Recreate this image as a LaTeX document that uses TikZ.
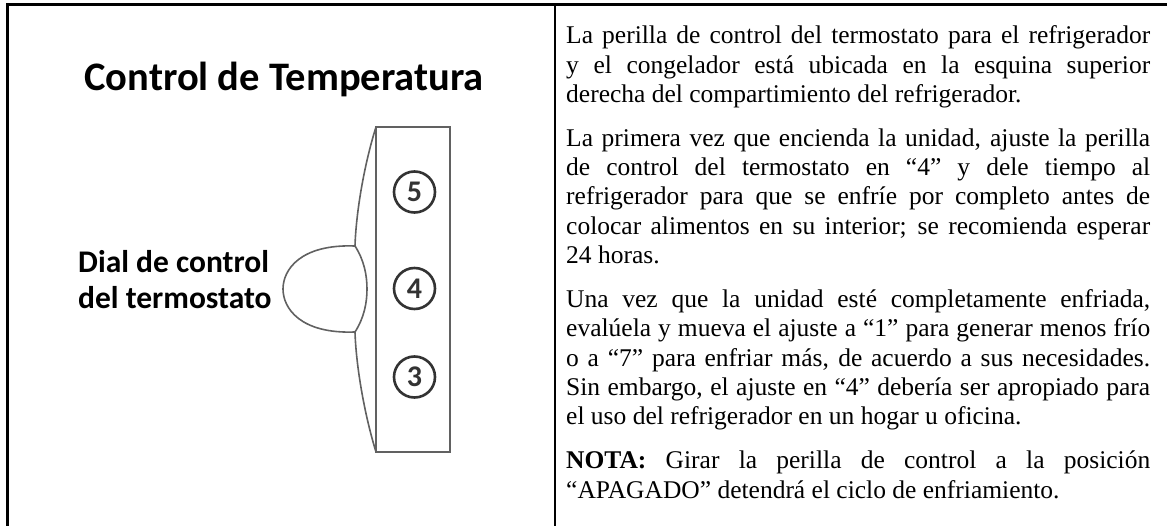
\documentclass[tikz,border=0pt]{standalone}
\usepackage{fontspec}
\setmainfont{Liberation Serif}
\newfontfamily\cali{Carlito}
\newcommand\jline[1]{\hbox to 584pt{\spaceskip=0pt\xspaceskip=0pt #1}}
\newcommand\pline[1]{\hbox{#1}}
\tikzset{
  frameline/.style={draw=black, line width=2.5pt},
  panel/.style={draw=black!62, line width=2.2pt},
  knobline/.style={draw=black!62, line width=1.6pt},
  dialnum/.style={circle, draw=black!80, line width=2.6pt, minimum size=41pt, inner sep=0pt,
    text=black!80, font=\cali\bfseries\fontsize{30}{32}\selectfont},
  label/.style={inner sep=0pt, font=\cali\bfseries},
}
\begin{document}
\begin{tikzpicture}[x=1pt,y=-1pt]
\useasboundingbox (0,0) rectangle (1167,526);
\fill[white] (0,0) rectangle (1167,526);
% frame
\draw[frameline] (7.5,540) -- (7.5,4.5) -- (1180,4.5);
\draw[frameline] (555,4.5) -- (555,540);
% thermostat panel
\draw[panel] (376,127) rectangle (450,452);
\draw[knobline] (376,127) .. controls (364,165) and (356,213) .. (355,246);
\draw[knobline] (355,332) .. controls (356,365) and (364,413) .. (376,452);
\draw[knobline] (355,246) .. controls (300,244) and (283,270) .. (283,289)
                 .. controls (283,308) and (300,334) .. (355,332);
\draw[knobline] (355,246) .. controls (364,260) and (367,275) .. (367,289)
                 .. controls (367,303) and (364,318) .. (355,332);
\node[dialnum] (c5) at (414.5,192) {5};
\node[dialnum] (c4) at (414.5,288.5) {4};
\node[dialnum] (c3) at (414.5,377) {3};
% labels
\node[label, anchor=base, font=\cali\bfseries\fontsize{40.5}{42}\selectfont] (title) at (284,90.5) {Control de Temperatura};
\node[label, anchor=base west, align=left, font=\cali\bfseries\fontsize{31.5}{36.5}\selectfont] (dial) at (78,309) {Dial de control\\del termostato};
% body text
\node[anchor=north west, inner sep=0pt, text width=584pt, align=justify, font=\fontsize{25.5}{29.3}\selectfont] (body) at (566,25.6) {%
\jline{La perilla de control del termostato para el refrigerador}
\jline{y el congelador está ubicada en la esquina superior}
\pline{derecha del compartimiento del refrigerador.}
\vskip14.7pt
\jline{La primera vez que encienda la unidad, ajuste la perilla}
\jline{de control del termostato en “4” y dele tiempo al}
\jline{refrigerador para que se enfríe por completo antes de}
\jline{colocar alimentos en su interior; se recomienda esperar}
\pline{24 horas.}
\vskip14.7pt
\jline{Una vez que la unidad esté completamente enfriada,}
\jline{evalúela y mueva el ajuste a “1” para generar menos frío}
\jline{o a “7” para enfriar más, de acuerdo a sus necesidades.}
\jline{Sin embargo, el ajuste en “4” debería ser apropiado para}
\pline{el uso del refrigerador en un hogar u oficina.}
\vskip14.7pt
\jline{\textbf{NOTA:} Girar la perilla de control a la posición}
\pline{“APAGADO” detendrá el ciclo de enfriamiento.}};
\end{tikzpicture}
\end{document}
